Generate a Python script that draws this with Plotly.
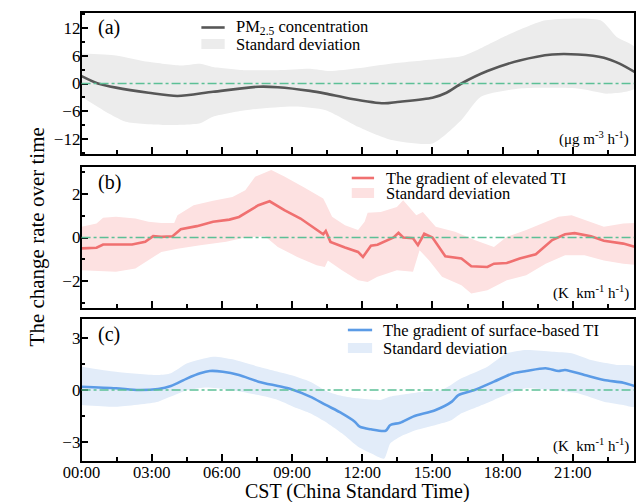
import plotly.graph_objects as go

# ---------------- data (hours since 00:00 CST) ----------------
a_x = [0, 0.7, 1.47, 2.86, 4.1, 5.62, 7.56, 8.39, 9.77, 10.44, 11.5, 12.93, 13.5, 15.0, 15.6,
       16.24, 17.35, 18.73, 20.12, 21.22, 22.33, 23.0, 23.64]
a_y = [1.6, 0.0, -0.9, -2.0, -2.7, -1.8, -0.7, -0.8, -1.6, -2.2, -3.3, -4.3, -4.0, -3.1, -2.0,
       0.0, 2.7, 5.0, 6.3, 6.3, 5.6, 4.3, 2.5]
a_up_x = [0, 1.47, 2.86, 4.24, 5.07, 5.62, 7.0, 8.39, 9.77, 10.6, 11.8, 13.2, 15.0, 16.24, 16.8,
          18.04, 19.84, 22.19, 22.88, 23.64]
a_up_y = [6.5, 6.1, 4.7, 3.9, 4.3, 3.6, 2.9, 2.9, 3.2, 2.7, 3.3, 4.3, 5.2, 5.9, 7.0,
          10.1, 13.7, 13.7, 10.1, 7.9]
a_lo_x = [0, 0.92, 1.89, 3.55, 5.07, 5.62, 7.0, 9.08, 10.44, 11.82, 13.2, 15.0, 16.24, 17.07,
          18.73, 21.22, 22.47, 23.64]
a_lo_y = [-2.9, -5.8, -8.3, -9.0, -8.6, -7.2, -5.8, -5.0, -5.8, -9.4, -12.2, -13.0, -7.9, -2.9,
          -1.1, -1.1, -2.2, -1.1]

b_x = [0, 0.64, 0.92, 2.16, 2.72, 3.06, 3.41, 3.89, 4.24, 4.93, 5.62, 6.32, 6.73, 7.28, 7.56,
       8.04, 8.67, 9.36, 10.33, 10.44, 10.64, 11.26, 11.82, 12.03, 12.37, 12.65, 13.06, 13.34,
       13.55, 13.75, 14.17, 14.38, 14.65, 15.0, 15.55, 15.97, 16.24, 16.66, 17.35, 17.63, 18.18,
       18.73, 19.42, 20.12, 20.67, 21.08, 21.78, 22.33, 23.16, 23.64]
b_y = [-0.50, -0.47, -0.32, -0.32, -0.2, 0.06, 0.03, 0.06, 0.38, 0.52, 0.72, 0.82, 0.94, 1.28,
       1.48, 1.66, 1.25, 0.87, 0.15, 0.30, -0.2, -0.46, -0.66, -0.89, -0.38, -0.33, -0.15, 0.0,
       0.21, 0.0, -0.03, -0.35, 0.17, 0.0, -0.86, -0.93, -0.96, -1.32, -1.35, -1.2, -1.17,
       -0.96, -0.77, -0.12, 0.15, 0.2, 0.06, -0.15, -0.28, -0.42]
b_up_x = [0, 0.64, 0.92, 1.47, 2.30, 2.86, 3.41, 3.96, 4.10, 4.79, 5.62, 6.45, 7.0, 7.42, 8.11,
          8.67, 9.50, 10.33, 10.44, 10.71, 11.26, 11.82, 12.10, 12.23, 12.79, 13.48, 13.75,
          14.31, 14.59, 15.14, 15.97, 16.80, 17.63, 18.18, 19.01, 19.84, 20.39, 20.95, 21.50,
          22.33, 23.16, 23.64]
b_up_y = [0.49, 0.64, 0.9, 0.95, 0.87, 0.72, 0.67, 0.67, 1.02, 1.48, 1.68, 1.86, 2.17, 2.78,
          3.09, 2.8, 2.3, 1.79, 1.56, 0.95, 0.56, 0.34, 0.72, 1.13, 1.17, 1.4, 1.71, 1.02, 1.17,
          0.49, 0.26, -0.12, -0.43, 0.03, 0.34, 0.72, 0.95, 1.02, 0.8, 0.49, 0.64, 0.67]
b_lo_x = [0, 1.47, 2.30, 2.99, 3.41, 4.10, 5.07, 6.18, 7.0, 7.84, 8.39, 9.22, 10.05, 10.40,
          10.53, 11.13, 11.82, 12.23, 12.65, 13.48, 14.17, 14.45, 14.86, 15.41, 16.24, 16.66,
          17.35, 18.18, 19.01, 19.84, 20.67, 21.50, 22.33, 23.16, 23.64]
b_lo_y = [-1.5, -1.57, -1.42, -0.96, -0.66, -0.51, -0.35, -0.2, 0.0, 0.06, -0.43, -0.89, -1.27,
          -1.35, -1.05, -1.5, -1.96, -2.04, -1.8, -1.5, -1.57, -0.58, -1.05, -1.8, -2.19, -2.57,
          -2.42, -1.96, -1.73, -1.2, -0.81, -0.81, -1.05, -1.2, -1.25]

c_x = [0, 1.47, 2.44, 3.27, 3.82, 4.52, 5.07, 5.48, 6.04, 6.73, 7.56, 8.39, 8.94, 9.77, 10.44,
       11.13, 11.68, 11.89, 12.37, 13.0, 13.20, 13.62, 14.17, 15.14, 15.83, 16.11, 16.80, 17.63,
       18.46, 19.01, 19.84, 20.39, 20.67, 21.50, 22.33, 23.16, 23.64]
c_y = [0.19, 0.10, 0.0, 0.06, 0.23, 0.67, 0.96, 1.09, 1.05, 0.86, 0.48, 0.23, 0.06, -0.38, -0.86,
       -1.34, -1.82, -2.11, -2.26, -2.34, -2.01, -1.88, -1.53, -1.15, -0.67, -0.29, 0.0, 0.48,
       0.96, 1.09, 1.25, 1.09, 1.15, 0.86, 0.57, 0.42, 0.23]
c_up_x = [0, 1.47, 3.27, 3.82, 4.52, 5.62, 6.45, 7.56, 8.94, 9.77, 10.53, 11.13, 11.82, 12.79,
          13.20, 14.59, 15.41, 16.24, 17.35, 18.18, 19.01, 20.12, 20.95, 21.78, 22.88, 23.64]
c_up_y = [1.34, 1.05, 0.86, 0.96, 1.53, 1.91, 1.76, 1.34, 0.86, 0.48, -0.1, -0.34, -0.48, -0.57,
          -0.38, -0.1, 0.0, 0.67, 1.34, 2.11, 2.3, 2.2, 2.11, 1.72, 1.44, 1.34]
c_lo_x = [0, 1.47, 3.27, 3.82, 4.52, 5.35, 6.18, 7.56, 8.39, 9.22, 9.77, 10.53, 11.13, 11.82,
          12.37, 12.93, 13.20, 13.62, 14.31, 15.14, 15.83, 16.24, 16.94, 17.63, 18.46, 19.01,
          20.12, 21.22, 22.33, 23.16, 23.64]
c_lo_y = [-0.86, -0.96, -0.67, -0.38, 0.0, 0.15, 0.04, -0.29, -0.57, -1.05, -1.34, -1.92, -2.49,
          -3.26, -3.64, -3.95, -3.06, -2.68, -2.3, -2.01, -1.72, -1.34, -0.96, -0.57, -0.1, 0.1,
          0.0, -0.19, -0.67, -0.86, -0.96]

x_tickvals = [0, 3, 6, 9, 12, 15, 18, 21]
x_ticktext = ["00:00", "03:00", "06:00", "09:00", "12:00", "15:00", "18:00", "21:00"]
x_minor = [1.5, 4.5, 7.5, 10.5, 13.5, 16.5, 19.5, 22.5]

panel_labels = ["(a)", "(b)", "(c)"]
legend_line = ["PM<sub>2.5</sub> concentration", "The gradient of elevated TI",
               "The gradient of surface-based TI"]
legend_band = "Standard deviation"
units = ["(μg m<sup>-3</sup> h<sup>-1</sup>)", "(K  km<sup>-1</sup> h<sup>-1</sup>)",
         "(K  km<sup>-1</sup> h<sup>-1</sup>)"]

# ---------------- style ----------------
FONT = "Liberation Serif"
line_cols = ["#575757", "#f07070", "#5b9be6"]
band_cols = ["#ececec", "#fde1e1", "#e2ecf9"]
line_shapes = ["spline", "linear", "spline"]
band_shapes = ["spline", "linear", "spline"]
zero_col = "#5cc096"
W, H = 636, 502
x_dom = [64.5 / W, 634 / W]
y_px = [(13, 154), (167, 308), (319, 461)]  # (top, bottom) pixel rows
y_ranges = [[-15.3, 15.3], [-3.23, 3.23], [-4.08, 4.08]]
y_ticks = [[-12, -6, 0, 6, 12], [-2, 0, 2], [-3, 0, 3]]
y_minor = [[-15, -9, -3, 3, 9, 15], [-3, -1, 1, 3], [-4.5, -1.5, 1.5, 4.5]]
leg = [  # swatch x0, x1, text x, row1 y, row2 y
    (188, 212, 222, 27.5, 44.0),
    (343, 366, 376, 178.0, 193.0),
    (339, 364, 373, 330.0, 348.0),
]

fig = go.Figure()
series = [(a_x, a_y, a_up_x, a_up_y, a_lo_x, a_lo_y),
          (b_x, b_y, b_up_x, b_up_y, b_lo_x, b_lo_y),
          (c_x, c_y, c_up_x, c_up_y, c_lo_x, c_lo_y)]


def py2p(v):
    return 1 - v / H


for i, (lx, ly, ux, uy, dx, dy) in enumerate(series):
    xa = "x" if i == 0 else f"x{i+1}"
    ya = "y" if i == 0 else f"y{i+1}"
    fig.add_trace(go.Scatter(x=ux + dx[::-1], y=uy + dy[::-1], fill="toself",
                             fillcolor=band_cols[i],
                             line=dict(width=0, shape=band_shapes[i], smoothing=0.6),
                             mode="lines", hoverinfo="skip", showlegend=False,
                             xaxis=xa, yaxis=ya))
    fig.add_trace(go.Scatter(x=lx, y=ly, mode="lines",
                             line=dict(color=line_cols[i], width=2.6, shape=line_shapes[i],
                                       smoothing=0.8),
                             showlegend=False, xaxis=xa, yaxis=ya))
    # zero reference
    fig.add_shape(type="line", xref=f"{xa} domain", yref=ya, x0=0, x1=1, y0=0, y1=0,
                  line=dict(color=zero_col, width=1.3, dash="dashdot"), layer="above")

    top, bot = y_px[i]
    axis_common = dict(showline=True, mirror=True, linecolor="black", linewidth=1.5,
                       ticks="inside", tickcolor="black", ticklen=7, tickwidth=1.5,
                       showgrid=False, zeroline=False)
    fig.layout[f"xaxis{'' if i == 0 else i+1}"] = dict(
        domain=x_dom, range=[0, 23.62], anchor=ya, tickvals=x_tickvals,
        ticktext=x_ticktext, showticklabels=(i == 2), ticklabelstandoff=-5,
        tickfont=dict(family=FONT, size=16.5, color="black"),
        minor=dict(tickvals=x_minor, ticks="inside", ticklen=4, tickcolor="black", tickwidth=1.5),
        **axis_common)
    fig.layout[f"yaxis{'' if i == 0 else i+1}"] = dict(
        domain=[py2p(bot), py2p(top)], range=y_ranges[i], anchor=xa,
        tickvals=y_ticks[i], ticklabelstandoff=-4,
        tickfont=dict(family=FONT, size=17, color="black"),
        minor=dict(tickvals=y_minor[i], ticks="inside", ticklen=4, tickcolor="black", tickwidth=1.5),
        **axis_common)

    # panel label
    fig.add_annotation(text=panel_labels[i], xref="paper", yref="paper", x=79 / W,
                       y=py2p(top + 15), xanchor="left", yanchor="middle", showarrow=False,
                       font=dict(family=FONT, size=20, color="black"))
    # units
    fig.add_annotation(text=units[i], xref="paper", yref="paper", x=631 / W,
                       y=py2p(bot - 16), xanchor="right", yanchor="middle", showarrow=False,
                       font=dict(family=FONT, size=15, color="black"))
    # manual legend
    sx0, sx1, tx, r1, r2 = leg[i]
    fig.add_shape(type="line", xref="paper", yref="paper", x0=sx0 / W, x1=sx1 / W,
                  y0=py2p(r1), y1=py2p(r1), line=dict(color=line_cols[i], width=2.6))
    fig.add_shape(type="rect", xref="paper", yref="paper", x0=sx0 / W, x1=sx1 / W,
                  y0=py2p(r2 - 5), y1=py2p(r2 + 5), line=dict(width=0), fillcolor=band_cols[i])
    fig.add_annotation(text=legend_line[i], xref="paper", yref="paper", x=tx / W, y=py2p(r1),
                       xanchor="left", yanchor="middle", showarrow=False,
                       font=dict(family=FONT, size=16.5, color="black"))
    fig.add_annotation(text=legend_band, xref="paper", yref="paper", x=tx / W, y=py2p(r2),
                       xanchor="left", yanchor="middle", showarrow=False,
                       font=dict(family=FONT, size=16.5, color="black"))

# axis titles
fig.add_annotation(text="The change rate over time", xref="paper", yref="paper",
                   x=19 / W, y=py2p(237), textangle=-90, showarrow=False,
                   xanchor="center", yanchor="middle", font=dict(family=FONT, size=21, color="black"))
fig.add_annotation(text="CST (China Standard Time)", xref="paper", yref="paper",
                   x=349 / W, y=py2p(491), showarrow=False, xanchor="center", yanchor="middle",
                   font=dict(family=FONT, size=20, color="black"))

fig.update_layout(width=W, height=H, margin=dict(l=0, r=0, t=0, b=0),
                  paper_bgcolor="white", plot_bgcolor="white", showlegend=False)

fig.write_html("out.html")
